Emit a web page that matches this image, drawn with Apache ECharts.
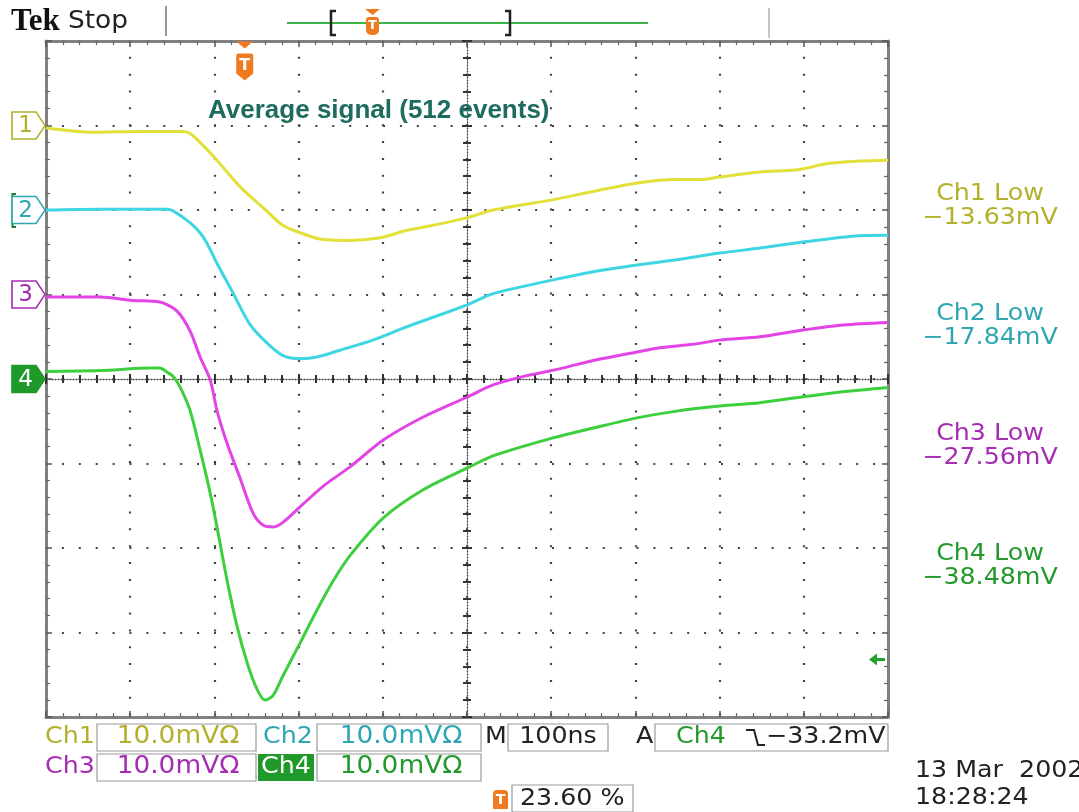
<!DOCTYPE html>
<html><head><meta charset="utf-8">
<script src="https://cdn.jsdelivr.net/npm/echarts@6/dist/echarts.min.js"></script>
<style>html,body{margin:0;padding:0;background:#fff}#c{width:1079px;height:812px}</style>
</head><body><div id="c"></div>
<script>
// ---- data (time in ns from record start, amplitude in mV relative to channel ground) ----
const ch1T = [0, 56, 112, 163, 172, 185, 203, 230, 262, 281, 302, 329, 361, 388, 401, 429, 460, 501, 531, 601, 650, 702, 749, 777, 800, 848, 895, 928, 967, 1000];
const ch1V = [-0.3, -0.8, -0.7, -0.7, -1.0, -2.2, -4.1, -7.2, -10.1, -11.8, -12.7, -13.5, -13.6, -13.4, -13.2, -12.4, -11.8, -10.9, -10.0, -8.8, -7.8, -6.8, -6.4, -6.4, -6.1, -5.5, -5.2, -4.5, -4.2, -4.1];
const ch2T = [0, 64, 112, 144, 151, 171, 183, 191, 203, 222, 242, 262, 281, 302, 322, 349, 388, 429, 468, 501, 531, 601, 650, 702, 749, 800, 848, 899, 958, 1000];
const ch2V = [0, 0.1, 0.1, 0.1, -0.1, -1.5, -2.7, -3.9, -6.3, -9.8, -13.5, -15.7, -17.2, -17.6, -17.4, -16.6, -15.4, -13.8, -12.4, -11.2, -9.9, -8.3, -7.3, -6.5, -5.9, -5.1, -4.5, -3.8, -3.1, -3.0];
const ch3T = [0, 64, 103, 127, 139, 156, 171, 183, 195, 203, 215, 230, 246, 258, 270, 281, 302, 329, 361, 401, 448, 501, 531, 571, 610, 650, 702, 729, 768, 800, 848, 899, 947, 1000];
const ch3V = [-0.3, -0.3, -0.7, -0.8, -1.0, -2.0, -4.3, -7.4, -10.1, -13.7, -17.6, -21.6, -25.9, -27.3, -27.5, -27.0, -25.1, -22.7, -20.4, -17.2, -14.5, -12.1, -10.7, -9.6, -8.8, -7.8, -6.8, -6.3, -5.9, -5.4, -5.0, -4.2, -3.6, -3.3];
const ch4T = [0, 64, 124, 135, 144, 151, 159, 171, 183, 195, 203, 215, 227, 239, 251, 260, 270, 281, 302, 322, 341, 361, 401, 448, 501, 531, 601, 650, 702, 749, 800, 848, 899, 947, 1000];
const ch4V = [0.9, 1.0, 1.3, 1.3, 0.8, 0.3, -0.9, -3.7, -8.4, -13.5, -17.5, -23.8, -29.3, -33.6, -36.8, -38.0, -37.4, -35.2, -31.2, -27.3, -23.9, -20.9, -16.4, -13.1, -10.5, -9.1, -7.0, -5.8, -4.6, -3.8, -3.2, -2.8, -2.1, -1.5, -1.0];

const chNames = ['Ch1', 'Ch2', 'Ch3', 'Ch4'];
const chScale = ['10.0mVΩ', '10.0mVΩ', '10.0mVΩ', '10.0mVΩ'];
const lowValues = ['−13.63mV', '−17.84mV', '−27.56mV', '−38.48mV'];
const groundDiv = [3, 2, 1, 0];        // channel ground offsets, divisions
const mvPerDiv = 10;
const nsPerDiv = 100;
const triggerPct = 23.60;
const triggerLevel = -33.2;            // mV on Ch4
const timebaseText = '100ns';
const triggerText = '−33.2mV';
const dateText = '13 Mar  2002';
const timeText = '18:28:24';
const titleText = 'Average signal (512 events)';

// ---- styles ----
const traceColors = ['#e3e03a', '#3fd6e4', '#e244e6', '#3dcf3d'];
const textColors = ['#b3b02c', '#2ea7b3', '#a52db3', '#22992a'];
const XMAX = nsPerDiv * 10, YMAX = mvPerDiv * 4;
const FONT = '"DejaVu Sans", sans-serif';

function xAxisDef(pos, opt) {
  return Object.assign({
    type: 'value', position: pos, min: 0, max: XMAX, interval: nsPerDiv,
    axisLine: {show: true, onZero: false, lineStyle: {color: '#808080', width: 3}},
    axisTick: {show: true, inside: true, length: 6, lineStyle: {color: '#555', width: 1.5}},
    minorTick: {show: true, splitNumber: 5, length: 4, lineStyle: {color: '#666', width: 1.2}},
    axisLabel: {show: false}, splitLine: {show: false}
  }, opt || {});
}
function yAxisDef(pos, opt) {
  return Object.assign({
    type: 'value', position: pos, min: -YMAX, max: YMAX, interval: mvPerDiv,
    axisLine: {show: true, onZero: false, lineStyle: {color: '#808080', width: 3}},
    axisTick: {show: true, inside: true, length: 6, lineStyle: {color: '#555', width: 1.5}},
    minorTick: {show: true, splitNumber: 5, length: 4, lineStyle: {color: '#666', width: 1.2}},
    axisLabel: {show: false}, splitLine: {show: false}
  }, opt || {});
}
const centerLine = {show: true, onZero: false, lineStyle: {color: '#444', width: 1.3, type: [1, 2]}};
const centerTick = {show: true, inside: true, length: 5, lineStyle: {color: '#333', width: 2}};
const centerMinor = {show: true, splitNumber: 5, length: 4, lineStyle: {color: '#333', width: 2}};

const xAxes = [
  xAxisDef('bottom', {splitLine: {show: true, lineStyle: {color: '#444', width: 2.2, type: [2, 14.84], dashOffset: 1}}}),
  xAxisDef('top'),
  xAxisDef('bottom', {offset: -338, axisLine: centerLine, axisTick: centerTick, minorTick: centerMinor}),
  xAxisDef('top', {offset: -338, axisLine: {show: false}, axisTick: centerTick, minorTick: centerMinor})
];
const yAxes = [
  yAxisDef('left', {splitLine: {show: true, lineStyle: {color: '#444', width: 2.2, type: [2, 14.9], dashOffset: 1}}}),
  yAxisDef('right'),
  yAxisDef('left', {offset: -421, axisLine: centerLine, axisTick: centerTick, minorTick: centerMinor}),
  yAxisDef('right', {offset: -421, axisLine: {show: false}, axisTick: centerTick, minorTick: centerMinor})
];

const traces = [[ch1T, ch1V], [ch2T, ch2V], [ch3T, ch3V], [ch4T, ch4V]];
const markerPath = 'path://M0,0 L24,0 L33,13.5 L24,27 L0,27 Z';

const series = traces.map((tv, i) => {
  const off = groundDiv[i] * mvPerDiv;
  const filled = i === 3;
  const mp = [{
    coord: [0, off], symbol: markerPath, symbolSize: [33, 27], symbolOffset: [-17.5, 0],
    itemStyle: {color: filled ? '#1f9a2a' : '#fff', borderColor: filled ? '#1f9a2a' : textColors[i], borderWidth: 1.5},
    label: {show: true, position: 'inside', offset: [-3, 1], formatter: String(i + 1),
      color: filled ? '#fff' : textColors[i], fontSize: 23, fontFamily: FONT}
  }];
  if (i === 3) {
    mp.push({
      coord: [XMAX, triggerLevel], symbol: 'path://M0,6 L8,0 L8,4.5 L16,4.5 L16,7.5 L8,7.5 L8,12 Z',
      symbolSize: [16, 12], symbolOffset: [-11, 0], itemStyle: {color: '#22a22a'}, label: {show: false}
    });
    mp.push({
      coord: [XMAX * triggerPct / 100, YMAX],
      symbol: 'path://M1,0 L16,0 L8.5,7 Z M1,14 Q1,12 3,12 L14,12 Q16,12 16,14 L16,32 L8.5,39 L1,32 Z',
      symbolSize: [17, 39], symbolOffset: [0, 20], itemStyle: {color: '#f07a20'},
      label: {show: true, position: 'inside', offset: [0, 5], formatter: 'T', color: '#fff', fontSize: 16, fontWeight: 'bold', fontFamily: FONT}
    });
  }
  return {
    type: 'line', name: chNames[i], xAxisIndex: 0, yAxisIndex: 0,
    data: tv[0].map((t, j) => [t, tv[1][j] + off]),
    showSymbol: false, smooth: 0.3, clip: true, z: 5,
    lineStyle: {color: traceColors[i], width: 3},
    markPoint: {silent: true, animation: false, data: mp}
  };
});

function txt(text, x, y, color, size, align, extra) {
  return Object.assign({
    type: 'text', x: x, y: y, silent: true, z: 10,
    style: {text: text, fill: color, font: (size || 23) + 'px ' + FONT, textAlign: align || 'left',
      verticalAlign: 'middle', textVerticalAlign: 'middle'}
  }, extra || {});
}
function box(x, y, w, h) {
  return {type: 'rect', silent: true, z: 9, shape: {x: x, y: y, width: w, height: h},
    style: {fill: '#fff', stroke: '#9a9a9a', lineWidth: 1.2}};
}
const SX = {scaleX: 1.1};

const graphic = [
  // header
  txt('Tek', 11, 22, '#111', 30, 'left', {style: {text: 'Tek', fill: '#111', font: 'bold 31px "Liberation Serif", serif', verticalAlign: 'middle', textVerticalAlign: 'middle'}}),
  txt('Stop', 68, 22, '#222', 24, 'left', SX),
  {type: 'line', silent: true, shape: {x1: 166, y1: 6, x2: 166, y2: 36}, style: {stroke: '#999', lineWidth: 2}},
  {type: 'line', silent: true, shape: {x1: 769, y1: 8, x2: 769, y2: 38}, style: {stroke: '#c4c4c4', lineWidth: 2}},
  {type: 'line', silent: true, shape: {x1: 287, y1: 23, x2: 648, y2: 23}, style: {stroke: '#3cb44a', lineWidth: 2}},
  {type: 'polyline', silent: true, shape: {points: [[336, 11], [331, 11], [331, 35], [336, 35]]}, style: {stroke: '#222', lineWidth: 2.5, fill: null}},
  {type: 'polyline', silent: true, shape: {points: [[505, 11], [510, 11], [510, 35], [505, 35]]}, style: {stroke: '#222', lineWidth: 2.5, fill: null}},
  {type: 'polygon', silent: true, shape: {points: [[365, 9], [380, 9], [372.5, 15]]}, style: {fill: '#f07a20'}},
  {type: 'rect', silent: true, shape: {x: 366, y: 17, width: 13, height: 18, r: [3, 3, 5, 5]}, style: {fill: '#f07a20'}},
  txt('T', 372.5, 26, '#fff', 13, 'center', {style: {text: 'T', fill: '#fff', font: 'bold 13px ' + FONT, textAlign: 'center', verticalAlign: 'middle', textVerticalAlign: 'middle'}}),
  // title
  {type: 'text', x: 208, y: 111, silent: true, z: 10,
    style: {text: titleText, fill: '#1e6b5f', font: 'bold 26px "Liberation Sans", Arial, sans-serif', verticalAlign: 'middle', textVerticalAlign: 'middle'}},
  // ch2 marker bracket
  {type: 'polyline', silent: true, shape: {points: [[16, 194], [12.5, 194], [12.5, 227], [16, 227]]}, style: {stroke: '#1a7a3a', lineWidth: 2, fill: null}}
];
// right-side low readouts
for (let i = 0; i < 4; i++) {
  graphic.push(txt(chNames[i] + ' Low', 990, 194 + 120 * i, textColors[i], 23, 'center', SX));
  graphic.push(txt(lowValues[i], 990, 218 + 120 * i, textColors[i], 23, 'center', SX));
}
// bottom readouts
graphic.push(
  txt(chNames[0], 45, 737, textColors[0], 23, 'left', SX),
  box(97, 724, 159, 27), txt(chScale[0], 178, 737, textColors[0], 24, 'center', SX),
  txt(chNames[1], 263, 737, textColors[1], 23, 'left', SX),
  box(317, 724, 164, 27), txt(chScale[1], 401, 737, textColors[1], 24, 'center', SX),
  txt('M', 485, 737, '#222', 23, 'left', SX),
  box(508, 724, 100, 27), txt(timebaseText, 558, 737, '#222', 23, 'center', SX),
  txt('A', 636, 737, '#222', 23, 'left', SX),
  box(655, 724, 233, 27), txt(chNames[3], 676, 737, textColors[3], 23, 'left', SX),
  {type: 'polyline', silent: true, z: 11, shape: {points: [[746, 730], [754, 730], [758, 745], [765, 745]]}, style: {stroke: '#222', lineWidth: 2, fill: null}},
  txt(triggerText, 766, 737, '#222', 23, 'left', SX),
  txt(chNames[2], 45, 767, textColors[2], 23, 'left', SX),
  box(97, 754, 159, 27), txt(chScale[2], 178, 767, textColors[2], 24, 'center', SX),
  {type: 'rect', silent: true, z: 9, shape: {x: 258, y: 754, width: 56, height: 27}, style: {fill: '#1f9a2a'}},
  txt(chNames[3], 261, 767, '#fff', 23, 'left', SX),
  box(317, 754, 164, 27), txt(chScale[3], 401, 767, textColors[3], 24, 'center', SX),
  {type: 'rect', silent: true, z: 9, shape: {x: 493, y: 790, width: 15, height: 19, r: [4, 4, 1, 1]}, style: {fill: '#f07a20'}},
  txt('T', 500.5, 800, '#fff', 14, 'center', {style: {text: 'T', fill: '#fff', font: 'bold 14px ' + FONT, textAlign: 'center', verticalAlign: 'middle', textVerticalAlign: 'middle'}}),
  box(512, 785, 121, 27), txt(triggerPct.toFixed(2) + ' %', 520, 799, '#222', 23, 'left', SX),
  txt(dateText, 915, 771, '#222', 23, 'left', SX),
  txt(timeText, 915, 798, '#222', 23, 'left', SX)
);

const chart = echarts.init(document.getElementById('c'), null, {renderer: 'canvas'});
chart.setOption({
  animation: false,
  backgroundColor: '#fff',
  grid: {left: 46, top: 41, width: 842, height: 676, containLabel: false, outerBoundsMode: 'none'},
  xAxis: xAxes,
  yAxis: yAxes,
  series: series,
  graphic: graphic
});
</script></body></html>
